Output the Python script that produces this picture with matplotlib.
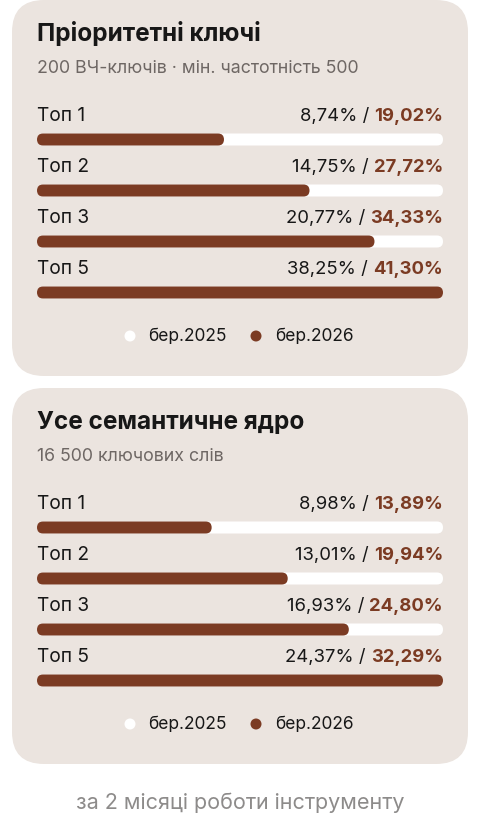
import matplotlib
matplotlib.use('Agg')
import matplotlib.pyplot as plt
from matplotlib.patches import FancyBboxPatch, Circle

plt.rcParams['font.family'] = ['Inter', 'DejaVu Sans']

# data
ranks = ['Топ 1', 'Топ 2', 'Топ 3', 'Топ 5']
titles = ['Пріоритетні ключі', 'Усе семантичне ядро']
subtitles = ['200 ВЧ-ключів · мін. частотність 500', '16 500 ключових слів']
prio_2025 = [8.74, 14.75, 20.77, 38.25]
prio_2026 = [19.02, 27.72, 34.33, 41.30]
core_2025 = [8.98, 13.01, 16.93, 24.37]
core_2026 = [13.89, 19.94, 24.80, 32.29]
legend_labels = ['бер.2025', 'бер.2026']
footer = 'за 2 місяці роботи інструменту'

BG = '#ebe4df'
BROWN = '#7b3b23'
DARK = '#171717'
GREY = '#6e6764'

W, H = 480, 819
fig = plt.figure(figsize=(W / 100, H / 100), dpi=100)
ax = fig.add_axes([0, 0, 1, 1])
ax.set_xlim(0, W)
ax.set_ylim(H, 0)
ax.axis('off')
fig.patch.set_facecolor('white')
renderer = fig.canvas.get_renderer()

def fmt(v):
    return f'{v:.2f}'.replace('.', ',') + '%'

def card(top, bottom, title, sub, v25, v26):
    ax.add_patch(FancyBboxPatch((12, top), 456, bottom - top,
                                boxstyle='round,pad=0,rounding_size=32',
                                fc=BG, ec='none'))
    ax.text(37, top + 41, title, fontsize=17.5, fontweight='bold',
            color=DARK, va='baseline')
    ax.text(37, top + 73, sub, fontsize=12.8, color=GREY, va='baseline')
    x0, x1, bh = 37, 443, 12
    vmax = max(v26)
    for i, (lab, a, b) in enumerate(zip(ranks, v25, v26)):
        base = top + 121 + i * 51
        yc = base + 18.5
        ax.text(x0, base, lab, fontsize=13.8, color=DARK, va='baseline')
        t = ax.text(x1, base, fmt(b), fontsize=13.3, fontweight='bold',
                    color=BROWN, va='baseline', ha='right')
        w = t.get_window_extent(renderer).width
        ax.text(x1 - w, base, fmt(a) + ' / ', fontsize=13.3, color=DARK,
                va='baseline', ha='right')
        ax.add_patch(FancyBboxPatch((x0, yc - bh / 2), x1 - x0, bh,
                                    boxstyle='round,pad=0,rounding_size=6',
                                    fc='white', ec='none'))
        ax.add_patch(FancyBboxPatch((x0, yc - bh / 2), (x1 - x0) * b / vmax, bh,
                                    boxstyle='round,pad=0,rounding_size=6',
                                    fc=BROWN, ec='none'))
    ly = top + 336
    for cx, tx, col, lab in [(130, 148, 'white', legend_labels[0]),
                             (256, 275, BROWN, legend_labels[1])]:
        ax.add_patch(Circle((cx, ly), 5.5, fc=col, ec='none'))
        ax.text(tx, ly, lab, fontsize=12.5, color=DARK, va='center')

card(0, 376, titles[0], subtitles[0], prio_2025, prio_2026)
card(388, 764, titles[1], subtitles[1], core_2025, core_2026)

ax.text(240, 803, footer, fontsize=15.5, color='#8d8b8a', ha='center', va='center')

fig.savefig('out.png', dpi=100, facecolor='white')
